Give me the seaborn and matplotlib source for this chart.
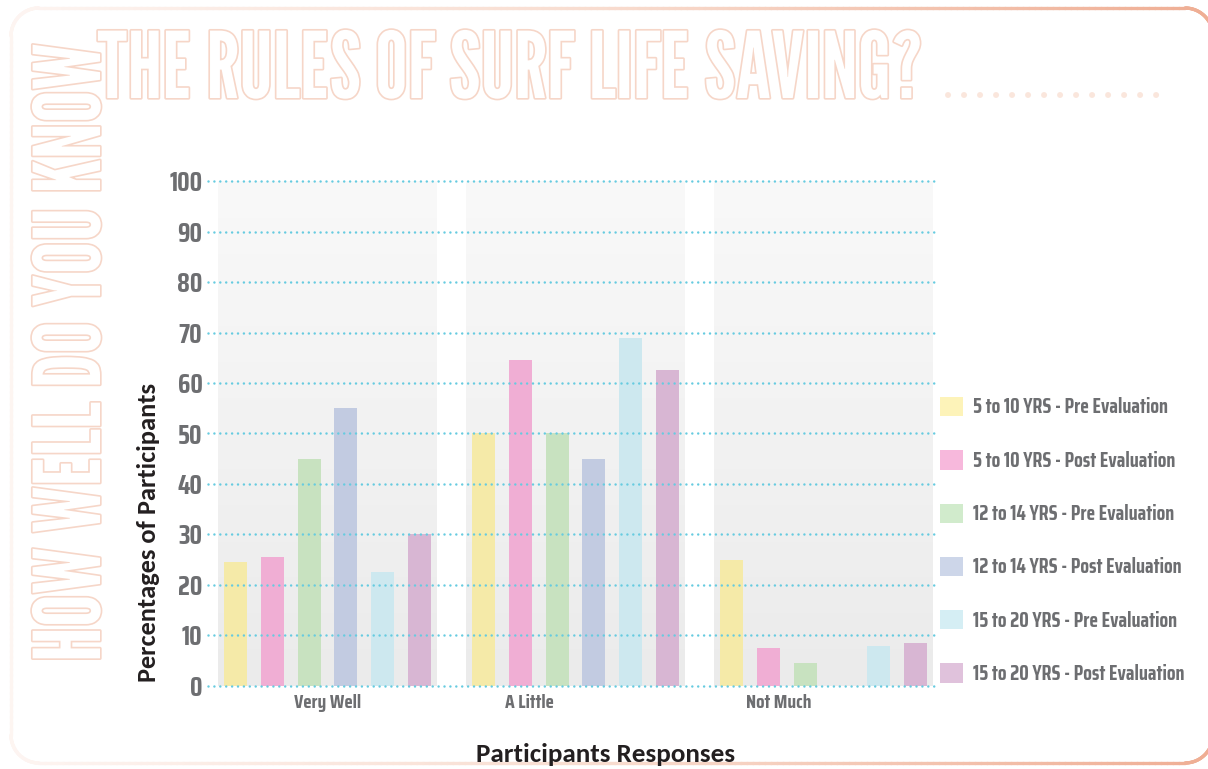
import numpy as np
import pandas as pd
import matplotlib
matplotlib.use("Agg")
import matplotlib.pyplot as plt
import seaborn as sns
import matplotlib.patheffects as pe
from matplotlib.font_manager import FontProperties
from matplotlib.patches import Patch
from matplotlib.collections import LineCollection
from matplotlib.lines import Line2D
from matplotlib.colors import LinearSegmentedColormap

# ---- data -------------------------------------------------------------
responses = ["Very Well", "A Little", "Not Much"]
groups = [
    "5 to 10 YRS - Pre Evaluation",
    "5 to 10 YRS - Post Evaluation",
    "12 to 14 YRS - Pre Evaluation",
    "12 to 14 YRS - Post Evaluation",
    "15 to 20 YRS - Pre Evaluation",
    "15 to 20 YRS - Post Evaluation",
]
very_well = [24.5, 25.5, 45, 55, 22.5, 30]
a_little = [50, 64.5, 50, 45, 69, 62.5]
not_much = [25, 7.5, 4.5, 0, 8, 8.5]
y_ticks = list(range(0, 101, 10))

bar_colors = ["#f5eaa8", "#f0aed4", "#c8e2c0", "#c2cbe1", "#cde8ef", "#d8b6d3"]
legend_colors = ["#fdf3b9", "#f7b8dc", "#d1ebcc", "#cdd6e9", "#d5eef4", "#e0c2dc"]

df = pd.DataFrame({
    "response": np.repeat(responses, len(groups)),
    "group": groups * len(responses),
    "value": very_well + a_little + not_much,
})

# ---- style ------------------------------------------------------------
sns.set_theme(style="white")
COND = ["Saira Condensed", "DejaVu Sans"]
XCOND = ["Saira Extra Condensed", "Saira Condensed", "DejaVu Sans"]
HEAD = ["League Gothic", "Saira Extra Condensed", "DejaVu Sans"]
BODY = ["Carlito", "Open Sans", "DejaVu Sans"]
plt.rcParams["font.family"] = COND
GREY_TXT = "#6d6e71"
PEACH = "#f6d6c8"

W, H = 1208, 769
fig = plt.figure(figsize=(W / 100, H / 100), dpi=100)
fig.patch.set_facecolor("white")


def fx(px):
    return px / W


def fy(py):
    return 1 - py / H


ax = fig.add_axes([fx(208), fy(691), fx(935) - fx(208), fy(176) - fy(691)])
ax.set_facecolor("none")

# soft grey gradient panel behind each response group
panel_cmap = LinearSegmentedColormap.from_list("panel", ["#ebebeb", "#f9f9f9"])
grad = np.linspace(0, 1, 256).reshape(-1, 1)
for i in range(len(responses)):
    ax.imshow(grad, extent=(i - 0.44, i + 0.44, 0, 100), origin="lower",
              aspect="auto", cmap=panel_cmap, zorder=0)

sns.barplot(data=df, x="response", y="value", hue="group", order=responses,
            hue_order=groups, palette=bar_colors, width=0.89, gap=0.375,
            saturation=1, legend=False, errorbar=None, ax=ax, zorder=2,
            linewidth=0)

# dotted cyan gridlines laid over the bars
for v in y_ticks:
    ax.axhline(v, color="#66cbe0", lw=1.8, ls=(0, (0.01, 2.35)),
               dash_capstyle="round", zorder=3, clip_on=False)

ax.set_xlim(-0.482, 2.45)
ax.set_ylim(-1, 101)
for s in ax.spines.values():
    s.set_visible(False)
ax.tick_params(length=0)
ax.set_yticks(y_ticks)
ax.set_yticklabels([str(t) for t in y_ticks], fontsize=19, fontweight="bold",
                   color=GREY_TXT, family=XCOND)
ax.tick_params(axis="y", pad=4)
ax.set_xticks([0, 0.815, 1.82])
ax.set_xticklabels(responses, fontsize=14, fontweight="bold", color=GREY_TXT)
ax.tick_params(axis="x", pad=2)
ax.set_xlabel("")
ax.set_ylabel("")

# axis titles
fig.text(fx(148), fy(533), "Percentages of Participants", rotation=90,
         ha="center", va="center", fontsize=19, fontweight="bold",
         color="#231f20", family=BODY)
fig.text(fx(606), fy(755), "Participants Responses", ha="center",
         va="center", fontsize=19.5, fontweight="bold", color="#231f20",
         family=BODY)

# legend
handles = [Patch(facecolor=c, edgecolor="none") for c in legend_colors]
fs = 14.5
fig.legend(handles, groups, loc="upper left",
           bbox_to_anchor=(fx(940), fy(397)), frameon=False, borderpad=0,
           borderaxespad=0, handlelength=23 / (fs * 1.389),
           handleheight=22 / (fs * 1.389), handletextpad=0.5,
           labelspacing=1.63, labelcolor=GREY_TXT,
           prop=FontProperties(family=COND, weight="bold", size=fs))

# ---- outlined headline text -------------------------------------------
outline = [pe.Stroke(linewidth=2.4, foreground=PEACH), pe.Normal()]
fig.text(fx(97), fy(98), "THE RULES OF SURF LIFE SAVING?", ha="left",
         va="baseline", fontsize=66, color="white", family=HEAD,
         fontweight="normal", path_effects=outline)
fig.text(fx(100), fy(662), "HOW WELL DO YOU KNOW", ha="left",
         va="baseline", rotation=90, rotation_mode="anchor", fontsize=66,
         color="white", family=HEAD, fontweight="normal",
         path_effects=outline)

# trailing dots after the headline
fig.add_artist(Line2D([fx(948), fx(1172)], [fy(95), fy(95)], color="#fae6dc",
                      lw=4.3, ls=(0, (0.01, 2.67)), dash_capstyle="round",
                      transform=fig.transFigure))

# ---- rounded frame with a colour gradient ------------------------------
left, right, top, bottom, r = 11, 1213, 8, 763, 28
pts = []


def arc(cx, cy, a0, a1, n=30):
    for a in np.linspace(np.radians(a0), np.radians(a1), n):
        pts.append((cx + r * np.cos(a), cy - r * np.sin(a)))


arc(left + r, top + r, 180, 90)
pts.append((right - r, top))
arc(right - r, top + r, 90, 0)
pts.append((right, bottom - r))
arc(right - r, bottom - r, 0, -90)
pts.append((left + r, bottom))
arc(left + r, bottom - r, -90, -180)
pts.append((left, top + r))

dense = []
for (xa, ya), (xb, yb) in zip(pts[:-1], pts[1:]):
    n = max(2, int(np.hypot(xb - xa, yb - ya) / 6))
    for t in np.linspace(0, 1, n, endpoint=False):
        dense.append((xa + (xb - xa) * t, ya + (yb - ya) * t))
dense.append(pts[-1])
dense = np.array(dense)
segs = np.stack([dense[:-1], dense[1:]], axis=1)
segs_fig = np.stack([segs[..., 0] / W, 1 - segs[..., 1] / H], axis=-1)
frame_cmap = LinearSegmentedColormap.from_list(
    "frame", ["#fdf5f2", "#f8dccf", "#efae94"])
mid_x = segs[:, :, 0].mean(axis=1) / W
lc = LineCollection(segs_fig, colors=frame_cmap(np.clip(mid_x, 0, 1)),
                    linewidths=2.4, transform=fig.transFigure,
                    capstyle="round")
fig.add_artist(lc)

fig.savefig("out.png", dpi=100, facecolor="white")
